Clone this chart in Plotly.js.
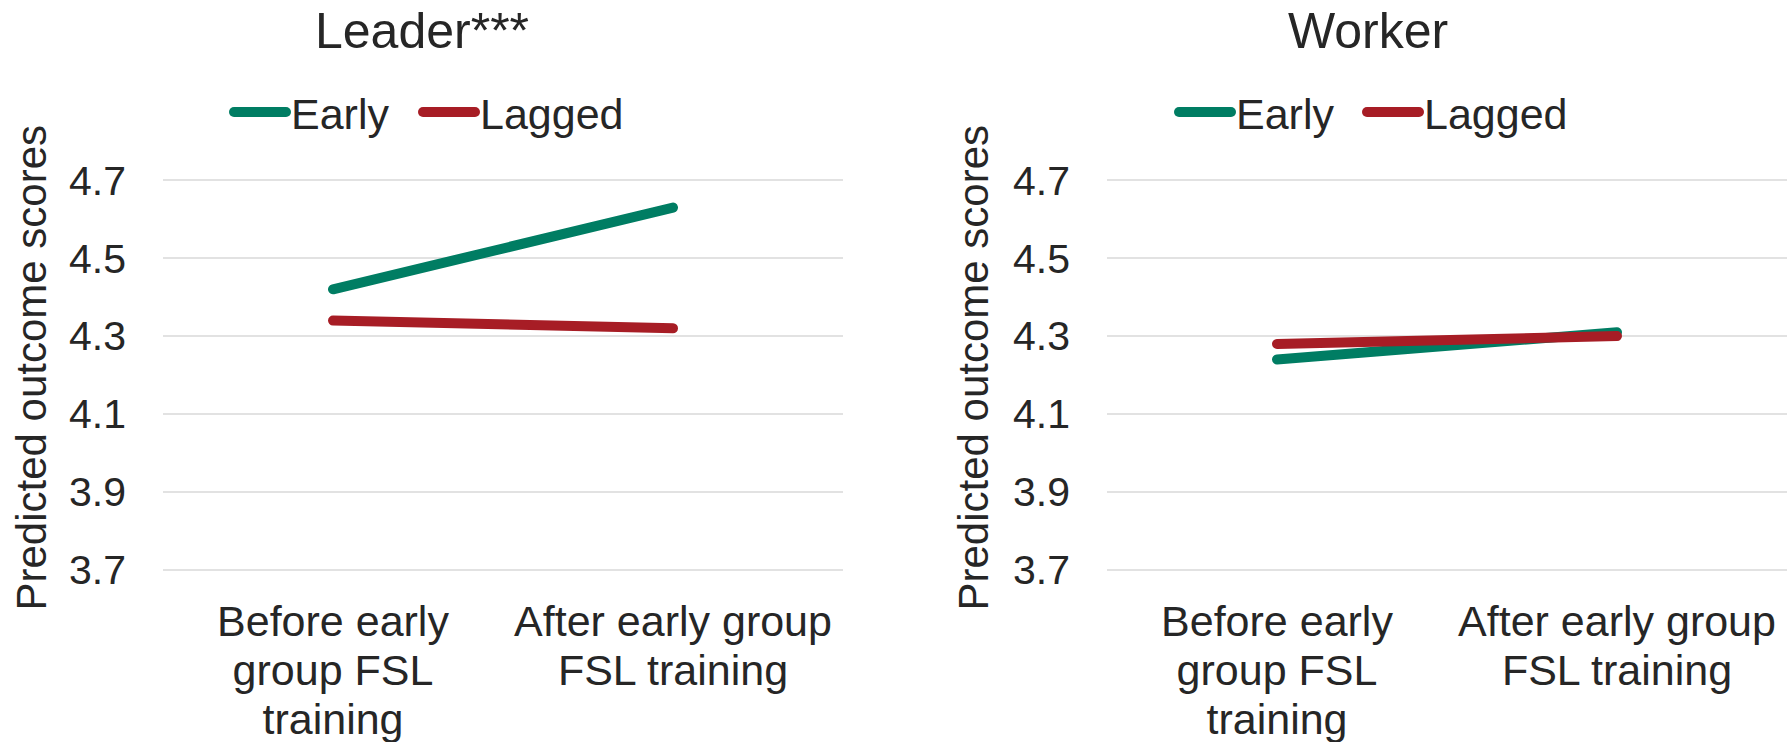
<!DOCTYPE html>
<html>
<head>
<meta charset="utf-8">
<script src="https://cdn.plot.ly/plotly-3.0.1.min.js"></script>
<style>
  html, body { margin: 0; padding: 0; background: #ffffff; }
  #chart { width: 1789px; height: 742px; }
  .js-line { stroke-linecap: round !important; }
</style>
</head>
<body>
<div id="chart"></div>
<script>
// ---- data ----
const categories = ["Before early<br>group FSL<br>training", "After early group<br>FSL training"];
const panelTitles = ["Leader***", "Worker"];
const seriesNames = ["Early", "Lagged"];
const leaderEarly = [4.42, 4.63];
const leaderLagged = [4.34, 4.32];
const workerEarly = [4.24, 4.31];
const workerLagged = [4.28, 4.30];
const yTickVals = [3.7, 3.9, 4.1, 4.3, 4.5, 4.7];
const yTitle = "Predicted outcome scores";

// ---- style ----
const GREEN = "#007D63";
const RED = "#A71D25";
const TEXT = "#262626";
const FONT = "Liberation Sans, Arial, sans-serif";
const W = 1789, H = 742;

function line(x, y, name, color, xa, ya, lg) {
  return {
    type: "scatter", mode: "lines", x: x, y: y, name: name,
    xaxis: xa, yaxis: ya, legend: lg,
    line: { color: color, width: 10 },
    hoverinfo: "skip"
  };
}

const data = [
  line(categories, leaderEarly, seriesNames[0], GREEN, "x", "y", "legend"),
  line(categories, leaderLagged, seriesNames[1], RED, "x", "y", "legend2"),
  line(categories, workerEarly, seriesNames[0], GREEN, "x2", "y2", "legend3"),
  line(categories, workerLagged, seriesNames[1], RED, "x2", "y2", "legend4")
];

const yDomain = [(H - 577.6) / H, (H - 172.5) / H];
function yax(anchor) {
  return {
    anchor: anchor, domain: yDomain, range: [3.68, 4.72],
    tickvals: yTickVals, tickformat: ".1f",
    showgrid: true, gridcolor: "#e2e2e2", gridwidth: 2,
    zeroline: false, showline: false, ticks: "",
    ticklabelstandoff: 36,
    tickfont: { family: FONT, size: 41, color: TEXT },
    fixedrange: true
  };
}
function xax(anchor, dom) {
  return {
    anchor: anchor, domain: dom, type: "category",
    range: [-0.5, 1.5],
    showgrid: false, zeroline: false, showline: false, ticks: "",
    ticklabelstandoff: 14,
    tickfont: { family: FONT, size: 43, color: TEXT },
    fixedrange: true
  };
}
function legend(x) {
  return {
    orientation: "h", x: x, y: (H - 112) / H, xanchor: "left", yanchor: "middle",
    font: { family: FONT, size: 43, color: TEXT },
    bgcolor: "rgba(0,0,0,0)", itemwidth: 52,
    itemclick: false, itemdoubleclick: false
  };
}

const layout = {
  width: W, height: H, autosize: false,
  margin: { l: 0, r: 0, t: 0, b: 0 },
  paper_bgcolor: "#ffffff", plot_bgcolor: "#ffffff",
  font: { family: FONT, color: TEXT },
  showlegend: true,
  xaxis: xax("y", [163 / W, 843 / W]),
  yaxis: yax("x"),
  xaxis2: xax("y2", [1107 / W, 1787 / W]),
  yaxis2: yax("x2"),
  legend: legend(229 / W),
  legend2: legend(418 / W),
  legend3: legend(1174 / W),
  legend4: legend(1362 / W),
  annotations: [
    { text: panelTitles[0], xref: "paper", yref: "paper", x: 421.5 / W, y: (H - 31) / H,
      xanchor: "center", yanchor: "middle", showarrow: false,
      font: { family: FONT, size: 50, color: TEXT } },
    { text: panelTitles[1], xref: "paper", yref: "paper", x: 1368 / W, y: (H - 31) / H,
      xanchor: "center", yanchor: "middle", showarrow: false,
      font: { family: FONT, size: 50, color: TEXT } },
    { text: yTitle, xref: "paper", yref: "paper", x: 31 / W, y: (H - 367.5) / H,
      xanchor: "center", yanchor: "middle", textangle: -90, showarrow: false,
      font: { family: FONT, size: 42, color: TEXT } },
    { text: yTitle, xref: "paper", yref: "paper", x: 973 / W, y: (H - 367.5) / H,
      xanchor: "center", yanchor: "middle", textangle: -90, showarrow: false,
      font: { family: FONT, size: 42, color: TEXT } }
  ]
};

Plotly.newPlot("chart", data, layout, { displayModeBar: false, staticPlot: true }).then(function (gd) {
  // tighter line spacing for the multi-line category labels (as in the reference)
  const ratio = 1.14 / 1.3;
  gd.querySelectorAll(".xtick text tspan.line, .x2tick text tspan.line").forEach(function (t) {
    const dy = t.getAttribute("dy");
    if (dy && /em$/.test(dy)) {
      const v = parseFloat(dy);
      if (v > 0) t.setAttribute("dy", (v * ratio).toFixed(3) + "em");
    }
  });
});
</script>
</body>
</html>
